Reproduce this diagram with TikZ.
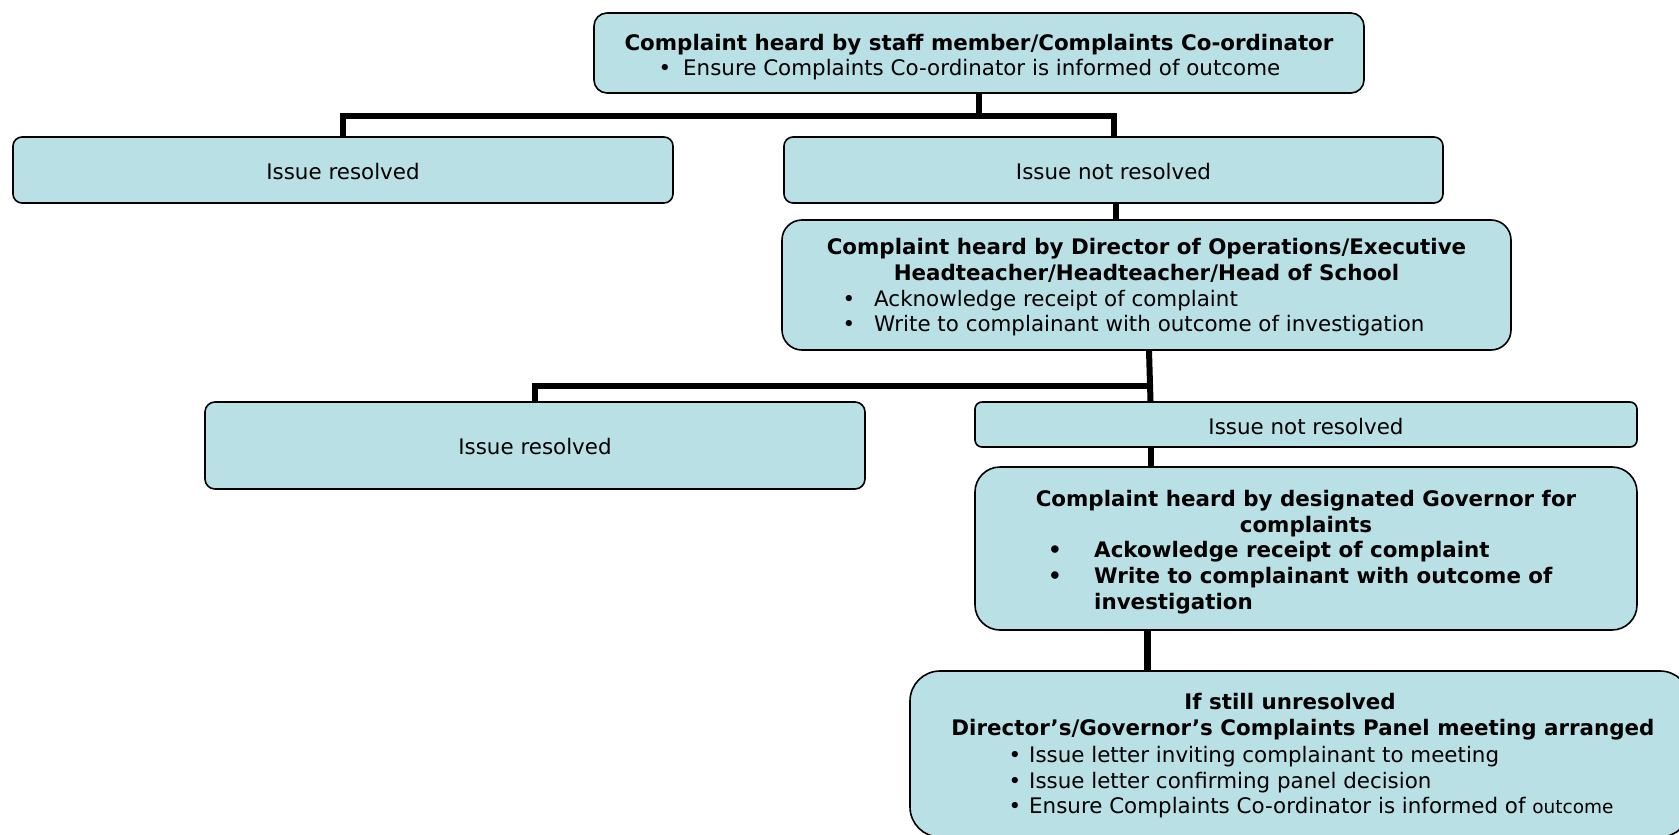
\documentclass[tikz,border=0pt]{standalone}
\usepackage{fontspec}
\setmainfont{DejaVu Sans}
\definecolor{boxfill}{RGB}{185,224,228}
\begin{document}
\begin{tikzpicture}[x=1pt,y=-1pt,
  box/.style={draw=black, line width=1.6pt, fill=boxfill, rounded corners=#1, inner sep=0pt},
  box/.default=10pt,
  conn/.style={draw=black, line width=6pt},
  txt/.style={inner sep=0pt, font=\fontsize{21.4}{25.7}\selectfont},
  ctr/.style={txt, anchor=base},
  lft/.style={txt, anchor=base west},
]
\useasboundingbox (0,0) rectangle (1679,835);
\clip (0,0) rectangle (1679,835);

% boxes
\node[box=13pt, minimum width=770pt, minimum height=80pt] (top) at (979,53) {};
\node[box=9pt, minimum width=660pt, minimum height=66pt] (ir1) at (343,170) {};
\node[box=9pt, minimum width=659pt, minimum height=66pt] (inr1) at (1113.5,170) {};
\node[box=20pt, minimum width=729pt, minimum height=130pt] (dir) at (1146.5,285) {};
\node[box=10pt, minimum width=660pt, minimum height=87pt] (ir2) at (535,445.5) {};
\node[box=7pt, minimum width=662pt, minimum height=45pt] (inr2) at (1306,424.5) {};
\node[box=25pt, minimum width=662pt, minimum height=163pt] (gov) at (1306,548.5) {};
\node[box=30pt, minimum width=780pt, minimum height=166pt] (panel) at (1300,754) {};

% connectors
\coordinate (j1) at (979,115.5);
\draw[conn] (top.south) -- (j1);
\draw[conn] (ir1.north) |- (j1) -| (inr1.north);
\coordinate (xa) at (1116,0);
\draw[conn] (inr1.south -| xa) -- (dir.north -| xa);
\coordinate (xb) at (1149,0);
\coordinate (xc) at (1150.5,0);
\coordinate (j2) at (1150,385.5);
\draw[conn] (dir.south -| xb) -- (inr2.north -| xc);
\draw[conn] (ir2.north) |- (j2);
\coordinate (xd) at (1151,0);
\draw[conn] (inr2.south -| xd) -- (gov.north -| xd);
\coordinate (xe) at (1147.7,0);
\draw[conn, line width=7pt] (gov.south -| xe) -- (panel.north -| xe);

\begin{scope}[yshift=-1.5pt]
% texts: top box
\node[ctr] (t1) at (979,48.5) {\bfseries Complaint heard by staff member/Complaints Co-ordinator};
\node[ctr] (t1b) at (665,74.2) {•};
\node[lft] (t1c) at (683,74.2) {Ensure Complaints Co-ordinator is informed of outcome};

% issue boxes
\node[ctr] (t2) at (343,178.3) {Issue resolved};
\node[ctr] (t3) at (1113.5,178.3) {Issue not resolved};
\node[ctr] (t4) at (535,452.5) {Issue resolved};
\node[ctr] (t5) at (1306,433.2) {Issue not resolved};

% director box
\node[ctr] (d1) at (1146.5,253.3) {\bfseries Complaint heard by Director of Operations/Executive};
\node[ctr] (d2) at (1146.5,279) {\bfseries Headteacher/Headteacher/Head of School};
\node[ctr] (d3b) at (849,304.7) {•};
\node[lft] (d3) at (874,304.7) {Acknowledge receipt of complaint};
\node[ctr] (d4b) at (849,330.4) {•};
\node[lft] (d4) at (874,330.4) {Write to complainant with outcome of investigation};

% governor box
\node[ctr] (g1) at (1306,504.9) {\bfseries Complaint heard by designated Governor for};
\node[ctr] (g2) at (1306,530.6) {\bfseries complaints};
\node[ctr] (g3b) at (1055,556.3) {\bfseries •};
\node[lft] (g3) at (1094,556.3) {\bfseries Ackowledge receipt of complaint};
\node[ctr] (g4b) at (1055,582) {\bfseries •};
\node[lft] (g4) at (1094,582) {\bfseries Write to complainant with outcome of};
\node[lft] (g5) at (1094,607.7) {\bfseries investigation};

% panel box
\node[ctr] (p1) at (1290,708.4) {\bfseries If still unresolved};
\node[ctr] (p2) at (1303,734.1) {\bfseries Director’s/Governor’s Complaints Panel meeting arranged};
\node[ctr] (p3b) at (1015,760.8) {•};
\node[lft] (p3) at (1029,760.8) {Issue letter inviting complainant to meeting};
\node[ctr] (p4b) at (1015,786.5) {•};
\node[lft] (p4) at (1029,786.5) {Issue letter confirming panel decision};
\node[ctr] (p5b) at (1015,812.2) {•};
\node[lft] (p5) at (1029,812.2) {Ensure Complaints Co-ordinator is informed of {\fontsize{18.5}{22}\selectfont outcome}};
\end{scope}
\end{tikzpicture}
\end{document}
